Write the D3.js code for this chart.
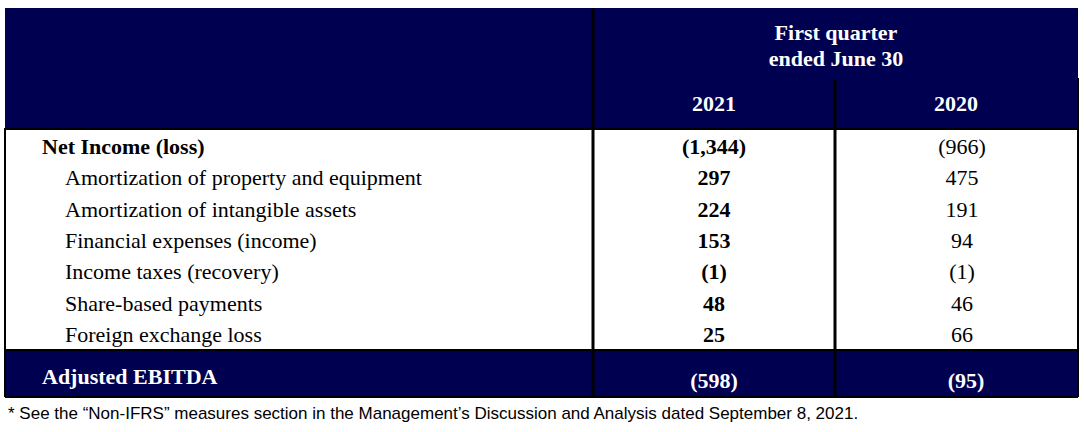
<!DOCTYPE html><html><head><script src="https://cdn.jsdelivr.net/npm/d3@7"></script>
<style>body{margin:0;background:#fff}</style></head><body><svg id="c" width="1084" height="432"></svg>
<script>
const labels=["Net Income (loss)","Amortization of property and equipment","Amortization of intangible assets","Financial expenses (income)","Income taxes (recovery)","Share-based payments","Foreign exchange loss"];
const v2021=["(1,344)","297","224","153","(1)","48","25"];
const v2020=["(966)","475","191","94","(1)","46","66"];
const totalLabel="Adjusted EBITDA", total2021="(598)", total2020="(95)";
const years=["2021","2020"];
const navy="#000050";
const svg=d3.select("#c");
const serif="'Liberation Serif','DejaVu Serif',serif";
const y=d3.scaleBand().domain(d3.range(labels.length)).range([131,351]);
// header
svg.append("rect").attr("x",5).attr("y",8).attr("width",1073).attr("height",121).attr("fill",navy);
svg.append("rect").attr("x",5).attr("y",351).attr("width",1073).attr("height",46).attr("fill",navy);
const hdr=svg.append("g").attr("fill","#fff").attr("font-family",serif).attr("font-weight","bold").attr("font-size",22).attr("text-anchor","middle");
hdr.append("text").attr("x",836).attr("y",40).text("First quarter");
hdr.append("text").attr("x",836).attr("y",66).text("ended June 30");
[714,956].forEach((cx,i)=>hdr.append("text").attr("x",cx).attr("y",111).text(years[i]));
// lines
const L=(x1,y1,x2,y2,w)=>svg.append("line").attr("x1",x1).attr("y1",y1).attr("x2",x2).attr("y2",y2).attr("stroke","#000").attr("stroke-width",w||2);
L(593,8,593,397,3);L(835,80,835,397,3);L(1078,78,1078,397,2);L(5,128,5,397,2);
L(5,129,1078,129,2);L(5,350,1078,350,2);L(5,397,1078,397,2);
// body
const g=svg.append("g").attr("font-family",serif).attr("font-size",22).attr("fill","#000");
labels.forEach((l,i)=>{
  const cy=y(i)+y.bandwidth()/2+7;
  g.append("text").attr("x",i===0?42:65).attr("y",cy).attr("font-weight",i===0?"bold":null).text(l);
  g.append("text").attr("x",714).attr("y",cy).attr("text-anchor","middle").attr("font-weight","bold").text(v2021[i]);
  g.append("text").attr("x",962).attr("y",cy).attr("text-anchor","middle").text(v2020[i]);
});
const t=svg.append("g").attr("font-family",serif).attr("font-size",22).attr("font-weight","bold").attr("fill","#fff");
t.append("text").attr("x",42).attr("y",384).text(totalLabel);
t.append("text").attr("x",714).attr("y",388).attr("text-anchor","middle").text(total2021);
t.append("text").attr("x",966).attr("y",388).attr("text-anchor","middle").text(total2020);
svg.append("text").attr("x",8).attr("y",419).attr("font-family","'Liberation Sans Narrow','Liberation Sans',sans-serif").attr("font-size",17).text("* See the \u201cNon-IFRS\u201d measures section in the Management\u2019s Discussion and Analysis dated September 8, 2021.");
</script></body></html>
